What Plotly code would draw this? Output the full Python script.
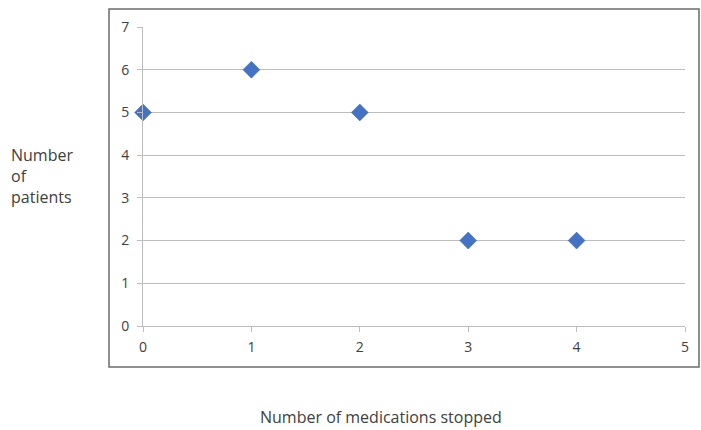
import plotly.graph_objects as go

meds_stopped = [0, 1, 2, 3, 4]
num_patients = [5, 6, 5, 2, 2]
x_ticks = [0, 1, 2, 3, 4, 5]
y_ticks = [0, 1, 2, 3, 4, 5, 6, 7]

W, H = 701, 430
L, R, T, B = 143, 16, 27, 104
pw, ph = W - L - R, H - T - B

def px(x):
    return (x - L) / pw

def py(y):
    return (H - B - y) / ph

font = "Open Sans, Liberation Sans, sans-serif"
txt = "#404040"
grid = "#bdbdbd"

fig = go.Figure()
fig.add_trace(go.Scatter(
    x=meds_stopped, y=num_patients, mode="markers",
    marker=dict(symbol="diamond", size=13, color="#4472c4",
                line=dict(width=0.5, color="#3a62a8")),
    cliponaxis=False, showlegend=False))

fig.update_layout(
    width=W, height=H,
    margin=dict(l=L, r=R, t=T, b=B),
    paper_bgcolor="white", plot_bgcolor="white",
    font=dict(family=font, size=14, color=txt),
    xaxis=dict(range=[0, 5], tickvals=x_ticks, showgrid=False,
               showline=True, linecolor=grid, linewidth=1,
               ticks="outside", ticklen=5, tickcolor=grid,
               ticklabelstandoff=3,
               zeroline=False, fixedrange=True),
    yaxis=dict(range=[0, 7], tickvals=y_ticks, showgrid=True,
               gridcolor=grid, gridwidth=1,
               showline=True, linecolor=grid, linewidth=1,
               ticks="outside", ticklen=5, tickcolor=grid,
               ticklabelstandoff=5,
               zeroline=False, fixedrange=True),
    shapes=[dict(type="rect", xref="paper", yref="paper",
                 x0=px(109), x1=px(699), y0=py(367), y1=py(9),
                 line=dict(color="#6b6b6b", width=1.5),
                 fillcolor="rgba(0,0,0,0)", layer="below")],
    annotations=[
        dict(text="Number<br>of<br>patients", xref="paper", yref="paper",
             x=px(9), y=py(176), xanchor="left", yanchor="middle",
             align="left", showarrow=False,
             font=dict(size=16, color=txt, family=font)),
        dict(text="Number of medications stopped", xref="paper", yref="paper",
             x=px(381), y=py(417), xanchor="center", yanchor="middle",
             showarrow=False, font=dict(size=16, color=txt, family=font)),
    ],
)

fig.write_html("out.html", config={"displayModeBar": False},
               post_script="document.body.style.margin='0';document.body.style.overflow='hidden';")
